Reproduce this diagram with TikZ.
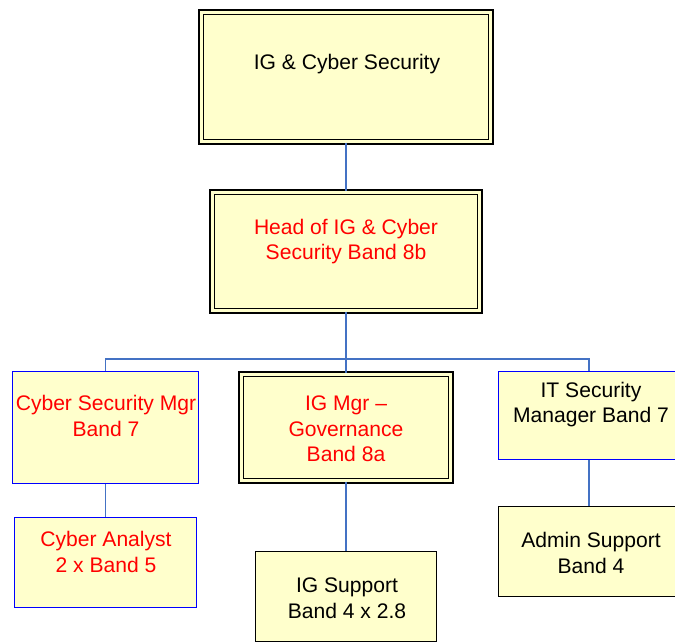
\documentclass[tikz,border=0pt]{standalone}
\usepackage{fontspec}
\setmainfont{Liberation Sans}
\definecolor{boxYellow}{RGB}{255,255,204}
\definecolor{lineBlue}{RGB}{68,114,196}
\definecolor{edgeBlue}{RGB}{0,0,255}
\definecolor{roleRed}{RGB}{255,0,0}

\begin{document}
\begin{tikzpicture}[x=0.02cm, y=-0.02cm]
            % Styles
            \tikzstyle{dblbox} = [rectangle, draw=black, line width=0.9pt, double=boxYellow, double distance=1.6pt, fill=boxYellow, inner sep=0pt]
            \tikzstyle{bluebox} = [rectangle, draw=edgeBlue, line width=1.1pt, fill=boxYellow, inner sep=0pt]
            \tikzstyle{plainbox} = [rectangle, draw=black, line width=1.1pt, fill=boxYellow, inner sep=0pt]
            \tikzstyle{roletxt} = [align=center, font=\fontsize{12}{14.5}\selectfont, inner sep=0pt]
            \tikzstyle{redtxt} = [roletxt, text=roleRed]
            \tikzstyle{conn} = [lineBlue, line width=1pt]

            \useasboundingbox (0,0) rectangle (675,642);
            \clip (0,0) rectangle (675,642);

            % Boxes - explicit coordinates
            \node[dblbox, minimum width=5.79cm, minimum height=2.59cm] (igcs) at (346,77) {};
            \node[dblbox, minimum width=5.35cm, minimum height=2.37cm] (head) at (346,251.5) {};
            \node[bluebox, minimum width=3.72cm, minimum height=2.24cm] (csm) at (105.5,427.5) {};
            \node[dblbox, minimum width=4.19cm, minimum height=2.13cm] (igm) at (346,427.5) {};
            \node[bluebox, minimum width=3.62cm, minimum height=1.76cm] (itm) at (589,415.5) {};
            \node[bluebox, minimum width=3.64cm, minimum height=1.80cm] (analyst) at (105.5,562.5) {};
            \node[plainbox, minimum width=3.62cm, minimum height=1.80cm] (igsup) at (346,596.5) {};
            \node[plainbox, minimum width=3.62cm, minimum height=1.80cm] (admin) at (589,551.5) {};

            % Texts
            \node[roletxt] (igcstxt) at (347,64.5) {IG \& Cyber Security};
            \node[redtxt] (headtxt) at (346,241.5) {Head of IG \& Cyber\\Security Band 8b};
            \node[redtxt] (csmtxt) at (106,416) {Cyber Security Mgr\\Band 7};
            \node[redtxt] (igmtxt) at (346,429) {IG Mgr –\\Governance\\Band 8a};
            \node[roletxt] (itmtxt) at (591,404.5) {IT Security\\Manager Band 7};
            \node[redtxt] (analysttxt) at (106,552) {Cyber Analyst\\2 x Band 5};
            \node[roletxt] (igsuptxt) at (347,598) {IG Support\\Band 4 x 2.8};
            \node[roletxt] (admintxt) at (591,553) {Admin Support\\Band 4};

            % Connectors
            \coordinate (bus) at (346,359);
            \draw[conn] (igcs.south) -- (head.north);
            \draw[conn] (head.south) -- (bus);
            \draw[conn] (bus) -| (csm.north);
            \draw[conn] (bus) -- (igm.north);
            \draw[conn] (bus) -| (itm.north);
            \draw[conn] (csm.south) -- (analyst.north);
            \draw[conn] (igm.south) -- (igsup.north);
            \draw[conn] (itm.south) -- (admin.north);
        \end{tikzpicture}
\end{document}
